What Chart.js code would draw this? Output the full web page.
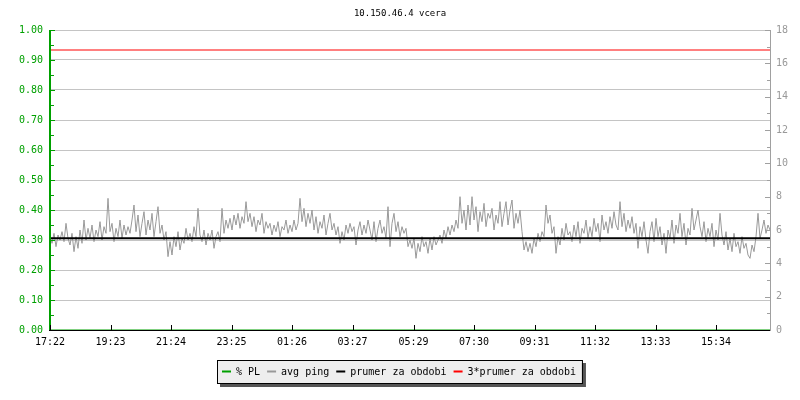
<!DOCTYPE html>
<html>
<head>
<meta charset="utf-8">
<script src="https://cdn.jsdelivr.net/npm/chart.js@4.4.4/dist/chart.umd.min.js"></script>
<style>
  html, body { margin: 0; padding: 0; background: #fff; }
  #wrap { width: 800px; height: 400px; }
</style>
</head>
<body>
<div id="wrap"><canvas id="c" width="800" height="400"></canvas></div>
<script>
const titleText = '10.150.46.4 vcera';

// x axis: minutes since 17:22, one label every ~2 hours
const tickMinutes = [0, 121, 242, 363, 484, 605, 727, 848, 969, 1090, 1211, 1332];
const tickLabels = ['17:22', '19:23', '21:24', '23:25', '01:26', '03:27', '05:29', '07:30', '09:31', '11:32', '13:33', '15:34'];

// avg ping (right axis), one sample every 4 minutes
const sampleStep = 4;
const avgPing = [
  5.6, 5.2, 5.8, 5.0, 5.7, 5.4, 5.9, 5.3, 6.4, 5.5,
  5.1, 5.8, 4.7, 5.6, 4.9, 6.0, 5.2, 6.6, 5.4, 6.1,
  5.5, 6.3, 5.3, 6.0, 5.6, 6.5, 5.4, 6.2, 5.8, 7.9,
  5.9, 6.4, 5.3, 6.1, 5.6, 6.6, 5.5, 6.3, 5.7, 6.2,
  5.8, 6.6, 7.5, 5.9, 6.9, 5.6, 6.4, 7.1, 5.7, 6.6,
  6.0, 7.0, 5.6, 6.5, 7.4, 5.8, 6.3, 5.4, 5.9, 4.4,
  5.3, 4.5, 5.6, 5.0, 5.9, 4.8, 5.5, 5.2, 6.1, 5.4,
  5.8, 5.3, 6.2, 5.6, 7.3, 5.7, 5.3, 6.0, 5.1, 5.8,
  5.4, 6.0, 4.9, 5.6, 5.9, 5.3, 7.3, 5.8, 6.6, 6.1,
  6.7, 6.0, 6.9, 6.3, 7.0, 6.1, 6.8, 6.4, 7.7, 6.5,
  7.0, 6.2, 6.8, 5.9, 6.6, 6.3, 7.0, 5.8, 6.5, 6.1,
  6.4, 5.7, 6.3, 5.9, 6.5, 5.6, 6.2, 6.0, 6.6, 5.8,
  6.3, 5.9, 6.6, 6.0, 6.4, 7.9, 6.5, 7.3, 6.2, 7.0,
  6.4, 7.2, 6.0, 6.8, 5.8, 6.5, 6.1, 6.9, 5.7, 6.4,
  7.0, 6.0, 6.4, 5.7, 6.2, 5.2, 5.9, 5.4, 6.3, 5.8,
  6.4, 5.9, 6.2, 5.1, 6.0, 6.5, 5.7, 6.3, 5.8, 6.6,
  6.0, 5.4, 6.5, 5.3, 6.1, 6.6, 5.8, 6.2, 5.5, 7.4,
  5.0, 6.4, 7.0, 5.9, 6.5, 5.6, 6.2, 5.8, 6.1, 5.0,
  5.4, 4.9, 5.5, 4.3, 5.2, 4.7, 5.6, 5.0, 5.3, 4.6,
  5.5, 4.8, 5.6, 5.1, 5.4, 5.7, 5.2, 6.0, 5.5, 6.2,
  5.7, 6.3, 5.9, 6.6, 6.1, 8.0, 6.4, 7.2, 6.0, 7.5,
  6.3, 8.0, 6.6, 7.4, 5.9, 7.1, 6.5, 7.6, 6.2, 7.0,
  6.7, 7.3, 6.0, 6.9, 6.4, 7.7, 6.2, 7.0, 7.7, 6.3,
  7.2, 7.8, 6.1, 7.0, 6.4, 7.2, 5.9, 4.8, 5.3, 4.7,
  5.2, 4.6, 5.5, 5.0, 5.8, 5.3, 5.9, 5.6, 7.5, 6.4,
  6.9, 5.8, 6.2, 4.6, 5.6, 5.1, 6.1, 5.4, 6.4, 5.7,
  5.9, 5.3, 6.3, 5.6, 6.5, 5.2, 6.1, 5.8, 6.6, 5.5,
  6.2, 5.6, 6.7, 5.9, 6.4, 5.3, 6.9, 6.0, 6.5, 5.8,
  6.8, 6.1, 7.1, 6.3, 6.0, 7.7, 6.2, 7.0, 5.9, 6.6,
  6.1, 6.8, 5.8, 6.4, 4.9, 6.2, 5.6, 6.5, 5.4, 4.6,
  5.9, 6.5, 5.3, 6.7, 5.6, 6.2, 5.1, 5.8, 4.6, 6.0,
  5.5, 6.6, 5.2, 6.3, 5.8, 7.0, 5.6, 6.4, 5.1, 6.1,
  5.7, 7.3, 6.0, 6.6, 7.2, 6.2, 5.6, 6.5, 5.3, 6.1,
  5.6, 6.4, 5.0, 6.0, 5.4, 7.0, 5.7, 5.1, 5.9, 4.8,
  5.5, 4.7, 5.8, 5.0, 5.3, 4.6, 5.6, 4.9, 5.2, 4.5,
  4.3, 5.1, 4.7, 5.6, 7.0, 5.5, 6.0, 6.6, 5.8, 6.3,
  6.0
];

// packet loss (left axis) stayed at zero all day
const packetLoss = [0, 0];
// levels of the two flat reference lines, right axis units
const periodMean = 5.5;
const tripleMean = 16.8;

const seriesNames = ['% PL', 'avg ping', 'prumer za obdobi', '3*prumer za obdobi'];
const seriesColors = ['#00a000', '#999999', '#000000', '#ff0000'];

const mono = 'DejaVu Sans Mono';
const dayEnd = (avgPing.length - 1) * sampleStep;

const pingPoints = avgPing.map((v, i) => ({ x: i * sampleStep, y: v }));
const plPoints = packetLoss.map((v, i) => ({ x: i * dayEnd, y: v }));
const meanPoints = [{ x: 0, y: periodMean }, { x: dayEnd, y: periodMean }];
const tripleMeanPoints = [{ x: 0, y: tripleMean }, { x: dayEnd, y: tripleMean }];

// axis lines and the short inward tick marks
const axisMarks = {
  id: 'axisMarks',
  afterDatasetsDraw(chart) {
    const ctx = chart.ctx;
    const a = chart.chartArea;
    const { x, y, y1 } = chart.scales;
    ctx.save();

    ctx.fillStyle = '#00a000';
    ctx.fillRect(a.left - 1, a.top, 2, a.bottom - a.top);
    y.ticks.forEach((t, i) => {
      const py = Math.round(y.getPixelForValue(t.value));
      ctx.fillRect(a.left, py, i % 2 === 0 ? 5 : 4, 1);
    });

    ctx.fillStyle = '#a0a0a0';
    ctx.fillRect(a.right, a.top, 1, a.bottom - a.top + 1);
    y1.ticks.forEach((t, i) => {
      const py = Math.round(y1.getPixelForValue(t.value));
      ctx.fillRect(a.right - (i % 2 === 0 ? 5 : 3), py, i % 2 === 0 ? 5 : 3, 1);
    });

    ctx.fillStyle = '#000';
    ctx.fillRect(a.left - 1, a.bottom, a.right - a.left + 1, 1);
    x.ticks.forEach(t => {
      const px = Math.round(x.getPixelForValue(t.value));
      ctx.fillRect(px, a.bottom - 5, 1, 5);
    });
    ctx.restore();
  }
};

// boxed legend with drop shadow under the x labels
const boxLegend = {
  id: 'boxLegend',
  afterDraw(chart) {
    const ctx = chart.ctx;
    ctx.save();
    ctx.font = '10px "' + mono + '"';
    const left = 217, top = 360, h = 23;
    let cx = left + 5;
    const items = chart.data.datasets.map(ds => {
      const it = { x: cx, label: ds.label, color: ds.borderColor };
      cx += 9 + 5 + ctx.measureText(ds.label).width + 7;
      return it;
    });
    const w = cx - 7 + 6 - left;

    ctx.fillStyle = '#555';
    ctx.fillRect(left + 3, top + 3, w + 1, h + 1);
    ctx.fillStyle = '#eeeeee';
    ctx.fillRect(left, top, w, h);
    ctx.strokeStyle = '#000';
    ctx.lineWidth = 1;
    ctx.strokeRect(left + 0.5, top + 0.5, w, h);

    const my = top + 11.5;
    items.forEach(it => {
      ctx.fillStyle = it.color;
      ctx.fillRect(it.x, my - 1, 9, 2);
      ctx.fillStyle = '#000';
      ctx.textBaseline = 'middle';
      ctx.fillText(it.label, it.x + 14, my + 0.5);
    });
    ctx.restore();
  }
};

new Chart(document.getElementById('c'), {
  type: 'line',
  data: {
    datasets: [
      { label: seriesNames[0], data: plPoints, yAxisID: 'y', borderColor: seriesColors[0], borderWidth: 1, order: 3 },
      { label: seriesNames[1], data: pingPoints, yAxisID: 'y1', borderColor: seriesColors[1], borderWidth: 1, order: 4 },
      { label: seriesNames[2], data: meanPoints, yAxisID: 'y1', borderColor: seriesColors[2], borderWidth: 2, order: 2 },
      { label: seriesNames[3], data: tripleMeanPoints, yAxisID: 'y1', borderColor: seriesColors[3], borderWidth: 1, order: 1 }
    ]
  },
  options: {
    responsive: false,
    animation: false,
    elements: { point: { radius: 0 }, line: { tension: 0 } },
    layout: { padding: 0 },
    plugins: {
      legend: { display: false },
      tooltip: { enabled: false },
      title: {
        display: true,
        text: titleText,
        color: '#000',
        font: { family: mono, size: 9, weight: 'normal' },
        padding: { top: 8, bottom: 11.2 }
      }
    },
    scales: {
      x: {
        type: 'linear',
        min: 0,
        max: dayEnd,
        grid: { display: false },
        border: { display: false },
        ticks: {
          color: '#000',
          font: { family: mono, size: 10 },
          padding: -2,
          autoSkip: false,
          maxRotation: 0,
          callback: v => tickLabels[tickMinutes.indexOf(v)] || ''
        },
        afterBuildTicks: s => { s.ticks = tickMinutes.map(v => ({ value: v })); },
        afterFit: s => { s.height = 70; }
      },
      y: {
        position: 'left',
        min: 0,
        max: 1,
        grid: {
          drawTicks: false,
          color: c => (c.index % 2 === 0 ? '#c4c4c4' : 'rgba(0,0,0,0)')
        },
        border: { display: false },
        ticks: {
          stepSize: 0.05,
          autoSkip: false,
          padding: 7,
          color: '#00a000',
          font: { family: mono, size: 10 },
          callback: (v, i) => (i % 2 === 0 ? v.toFixed(2) : '')
        },
        afterFit: s => { s.width = 50; }
      },
      y1: {
        position: 'right',
        min: 0,
        max: 18,
        grid: { drawOnChartArea: false, drawTicks: false },
        border: { display: false },
        ticks: {
          stepSize: 1,
          autoSkip: false,
          padding: 6,
          color: '#999999',
          font: { family: mono, size: 10 },
          callback: (v, i) => (i % 2 === 0 ? String(v) : '')
        },
        afterFit: s => { s.width = 30; }
      }
    }
  },
  plugins: [axisMarks, boxLegend]
});
</script>
</body>
</html>
